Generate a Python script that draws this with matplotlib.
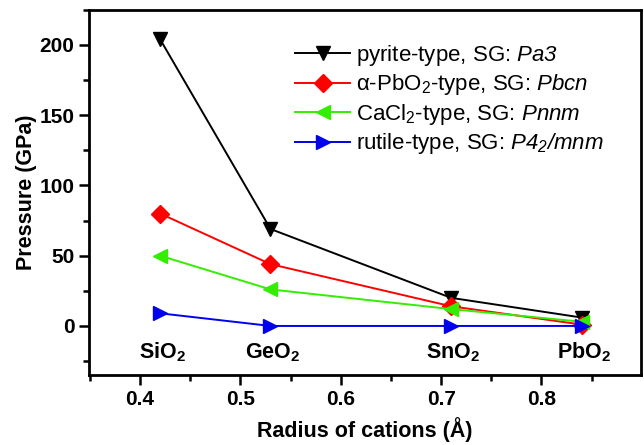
import numpy as np
import matplotlib
matplotlib.use('Agg')
import matplotlib.pyplot as plt
from matplotlib.ticker import MultipleLocator

plt.rcParams['font.family'] = ['Liberation Sans', 'DejaVu Sans']
plt.rcParams['mathtext.fontset'] = 'custom'
plt.rcParams['mathtext.rm'] = 'Liberation Sans'
plt.rcParams['mathtext.it'] = 'Liberation Sans:italic'
plt.rcParams['mathtext.sf'] = 'Liberation Sans:italic'
plt.rcParams['mathtext.bf'] = 'Liberation Sans:bold'

# cation radius (A) and transition pressures (GPa)
radius = [0.42, 0.53, 0.71, 0.84]
compounds = ['SiO$_\\mathbf{2}$', 'GeO$_\\mathbf{2}$', 'SnO$_\\mathbf{2}$', 'PbO$_\\mathbf{2}$']
p_pyrite = [204, 69, 20, 6]
p_apbo2 = [80, 44, 14, 1]
p_cacl2 = [50, 26, 12, 3]
p_rutile = [9, 0, 0, 0]

labels = ['pyrite-type, SG: $\\mathsf{Pa3}$',
          'α-PbO$_2$-type, SG: $\\mathsf{Pbcn}$',
          'CaCl$_2$-type, SG: $\\mathsf{Pnnm}$',
          'rutile-type, SG: $\\mathsf{P4_2/mnm}$']

fig = plt.figure(figsize=(6.44, 4.45), dpi=100)
ax = fig.add_axes([0.138, 0.157, 0.857, 0.821])

series = [(p_pyrite, 'k', 'v'), (p_apbo2, '#ff0000', 'D'),
          (p_cacl2, '#33ee00', '<'), (p_rutile, '#0000ee', '>')]
for (vals, col, mk), lab in zip(series, labels):
    ms = 9.5 if mk == 'D' else 10
    ax.plot(radius, vals, color=col, marker=mk, ms=ms, lw=1.4, label=lab)

for x, name in zip(radius, compounds):
    ax.text(x + 0.002, -19, name, ha='center', va='center', fontsize=15.5,
            fontweight='bold')

ax.set_xlim(0.349, 0.899)
ax.set_ylim(-35, 225)
ax.xaxis.set_major_locator(MultipleLocator(0.1))
ax.xaxis.set_minor_locator(MultipleLocator(0.05))
ax.yaxis.set_major_locator(MultipleLocator(50))
ax.yaxis.set_minor_locator(MultipleLocator(25))
ax.tick_params(which='both', direction='out', width=1.8, labelsize=15)
ax.tick_params(which='major', length=7)
ax.tick_params(which='minor', length=4)
for lab in ax.get_xticklabels() + ax.get_yticklabels():
    lab.set_fontweight('bold')
for sp in ax.spines.values():
    sp.set_linewidth(2)

ax.set_xlabel('Radius of cations (Å)', fontsize=15.5, fontweight='bold', labelpad=6)
ax.set_ylabel('Pressure (GPa)', fontsize=15.5, fontweight='bold', labelpad=2)

ax.legend(loc='upper left', bbox_to_anchor=(0.373, 0.909), frameon=False,
          fontsize=16, handlelength=2.5, handletextpad=0.25, labelspacing=0.2,
          borderpad=0, borderaxespad=0)

fig.savefig('out.png', dpi=100)
